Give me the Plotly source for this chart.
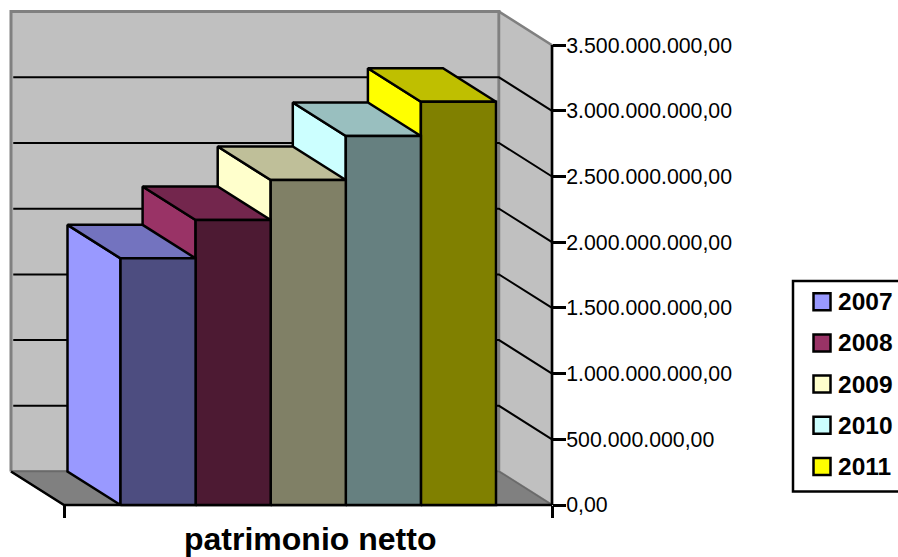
import plotly.graph_objects as go

# Data
years = ["2007", "2008", "2009", "2010", "2011"]
net_worth = [1.877e9, 2.169e9, 2.473e9, 2.808e9, 3.069e9]
tick_values = [0, 0.5e9, 1.0e9, 1.5e9, 2.0e9, 2.5e9, 3.0e9, 3.5e9]
tick_labels = ["0,00", "500.000.000,00", "1.000.000.000,00", "1.500.000.000,00",
               "2.000.000.000,00", "2.500.000.000,00", "3.000.000.000,00", "3.500.000.000,00"]
category_label = "patrimonio netto"

side_colors = ["#9999FF", "#993366", "#FFFFCC", "#CCFFFF", "#FFFF00"]
top_colors = ["#7373BF", "#73264D", "#BFBF99", "#99BFBF", "#BFBF00"]
front_colors = ["#4D4D80", "#4D1A33", "#808066", "#668080", "#808000"]

# Page and projection settings
W, H = 898, 557
PX_PER_UNIT_X = 75.1
PX_PER_VALUE = 131.4 / 1e9
ORIGIN_X, ORIGIN_Y = 120.5, 505
DX = 53 / PX_PER_UNIT_X            # oblique depth of the box, in x units
DY = 33.5 / PX_PER_VALUE           # oblique depth of the box, in value units
AXIS_LEFT = (64 - ORIGIN_X) / PX_PER_UNIT_X
AXIS_RIGHT = (552 - ORIGIN_X) / PX_PER_UNIT_X
AXIS_TOP = tick_values[-1]
FONT = "Liberation Sans"
WALL, FLOOR, EDGE = "#C0C0C0", "#808080", "#808080"
LINE = 2.5

fig = go.Figure()


def poly(xs, ys, fill=None, color="black", width=LINE):
    fig.add_trace(go.Scatter(
        x=xs, y=ys, mode="lines", fill="toself" if fill else None,
        fillcolor=fill, line=dict(color=color, width=width),
        hoverinfo="skip", showlegend=False,
    ))


# Back wall, right wall and floor
poly([AXIS_LEFT - DX, AXIS_RIGHT - DX, AXIS_RIGHT - DX, AXIS_LEFT - DX, AXIS_LEFT - DX],
     [DY, DY, AXIS_TOP + DY, AXIS_TOP + DY, DY], WALL, EDGE, 3)
poly([AXIS_RIGHT - DX, AXIS_RIGHT, AXIS_RIGHT, AXIS_RIGHT - DX, AXIS_RIGHT - DX],
     [DY, 0, AXIS_TOP, AXIS_TOP + DY, DY], WALL, EDGE, 2.5)
poly([AXIS_LEFT - DX, AXIS_RIGHT - DX, AXIS_RIGHT, AXIS_LEFT, AXIS_LEFT - DX],
     [DY, DY, 0, 0, DY], FLOOR, "#6A6A6A", 1.5)

# Gridlines wrapping the back and right walls
for v in tick_values[1:-1]:
    poly([AXIS_LEFT - DX + 0.03, AXIS_RIGHT - DX, AXIS_RIGHT],
         [v + DY, v + DY, v], width=2)

# Front edges of the box
poly([AXIS_LEFT - DX, AXIS_LEFT, AXIS_RIGHT], [DY, 0, 0])
poly([AXIS_RIGHT, AXIS_RIGHT], [0, AXIS_TOP])

# Bars are painted right to left so nearer columns hide the side of the next one
for i in range(len(net_worth) - 1, -1, -1):
    value = net_worth[i]
    left, right = float(i), float(i + 1)
    poly([left, left - DX, left - DX, left, left],
         [0, DY, value + DY, value, 0], side_colors[i])
    poly([left, left - DX, right - DX, right, left],
         [value, value + DY, value + DY, value, value], top_colors[i])
    poly([left, right, right, left, left],
         [0, 0, value, value, 0], front_colors[i])


def paper_x(px):
    return px / W


def paper_y(px):
    return 1 - px / H


# Legend box, open past the right page edge
shapes = [dict(type="rect", xref="paper", yref="paper",
               x0=paper_x(793), x1=paper_x(910), y0=paper_y(491.5), y1=paper_y(281),
               line=dict(color="black", width=LINE), fillcolor="white", layer="above")]
annotations = []
LEGEND_FIRST_Y, LEGEND_STEP = 301.7, 41.2
for i, year in enumerate(years):
    cy = LEGEND_FIRST_Y + i * LEGEND_STEP
    shapes.append(dict(type="rect", xref="paper", yref="paper",
                       x0=paper_x(813.5), x1=paper_x(830.5),
                       y0=paper_y(cy + 8.5), y1=paper_y(cy - 8.5),
                       line=dict(color="black", width=LINE), fillcolor=side_colors[i], layer="above"))
    annotations.append(dict(xref="paper", yref="paper", x=paper_x(837), y=paper_y(cy),
                            text=year, showarrow=False, xanchor="left", yanchor="middle",
                            borderpad=0,
                            font=dict(family=FONT, size=24.5, color="black", weight="bold")))

annotations.append(dict(xref="paper", yref="paper", x=paper_x(309.5), y=paper_y(539),
                        text=category_label, showarrow=False,
                        xanchor="center", yanchor="middle", borderpad=0,
                        font=dict(family=FONT, size=32, color="black", weight="bold")))

fig.update_layout(
    width=W, height=H, margin=dict(l=0, r=0, t=0, b=0),
    paper_bgcolor="white", plot_bgcolor="white", showlegend=False,
    shapes=shapes, annotations=annotations,
    font=dict(family=FONT, color="black"),
    xaxis=dict(
        range=[-ORIGIN_X / PX_PER_UNIT_X, (W - ORIGIN_X) / PX_PER_UNIT_X],
        anchor="free", position=(H - ORIGIN_Y) / H,
        tickmode="array", tickvals=[AXIS_LEFT, AXIS_RIGHT],
        ticks="outside", ticklen=12, tickwidth=LINE, tickcolor="black",
        showticklabels=False, showgrid=False, zeroline=False, showline=False,
    ),
    yaxis=dict(
        range=[-(H - ORIGIN_Y) / PX_PER_VALUE, ORIGIN_Y / PX_PER_VALUE],
        anchor="free", position=552 / W, side="right",
        tickmode="array", tickvals=tick_values, ticktext=tick_labels,
        ticks="outside", ticklen=13, tickwidth=LINE, tickcolor="black",
        ticklabelstandoff=-4,
        tickfont=dict(family=FONT, size=21.3, color="black"),
        showgrid=False, zeroline=False, showline=False,
    ),
)

fig.write_html("out.html", config=dict(displayModeBar=False))
